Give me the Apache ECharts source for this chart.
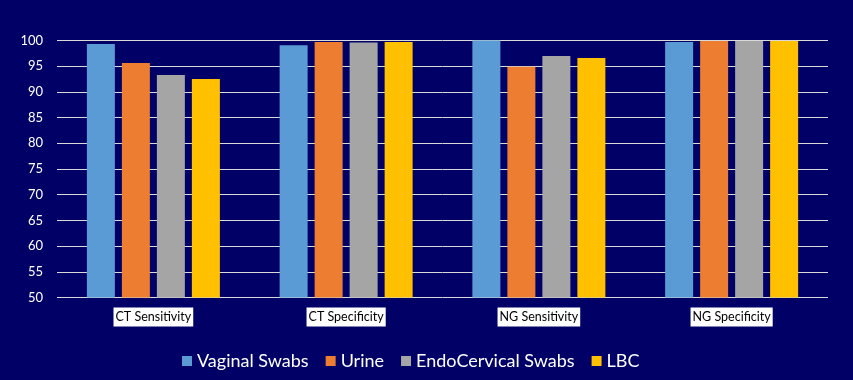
<!DOCTYPE html>
<html><head><meta charset="utf-8">
<script src="https://cdn.jsdelivr.net/npm/echarts@6/dist/echarts.min.js"></script>
<style>html,body{margin:0;padding:0;background:#000066}#c{width:853px;height:380px}</style>
</head><body><div id="c"></div>
<script>
const categories = ['CT Sensitivity', 'CT Specificity', 'NG Sensitivity', 'NG Specificity'];
const seriesNames = ['Vaginal Swabs', 'Urine', 'EndoCervical Swabs', 'LBC'];
const vaginal = [99.3, 99.1, 100, 99.7];
const urine = [95.6, 99.7, 94.9, 99.9];
const endo = [93.3, 99.6, 97.0, 99.9];
const lbc = [92.5, 99.7, 96.6, 99.9];
const colors = ['#5B9BD5', '#ED7D31', '#A5A5A5', '#FFC000'];
const values = [vaginal, urine, endo, lbc];

const chart = echarts.init(document.getElementById('c'));
chart.setOption({
  backgroundColor: '#000066',
  animation: false,
  textStyle: { fontFamily: 'Lato, "Open Sans", sans-serif' },
  grid: { left: 57, right: 25, top: 40.5, bottom: 82.5 },
  legend: {
    data: seriesNames,
    left: 177, top: 347,
    icon: 'rect', itemWidth: 10, itemHeight: 10, itemGap: 17,
    textStyle: { color: '#ffffff', fontSize: 18, fontFamily: 'Lato, sans-serif' }
  },
  xAxis: {
    type: 'category', data: categories,
    axisLine: { show: false }, axisTick: { show: false },
    axisLabel: {
      color: '#000000', backgroundColor: '#ffffff', fontSize: 12.5,
      padding: [3, 2, 3, 2], margin: 10, fontFamily: 'Lato, sans-serif'
    }
  },
  yAxis: {
    type: 'value', min: 50, max: 100, interval: 5,
    axisLine: { show: false }, axisTick: { show: false },
    axisLabel: { color: '#ffffff', fontSize: 13, margin: 14 },
    splitLine: { lineStyle: { color: '#D9D9D9', width: 1 } }
  },
  series: seriesNames.map((n, i) => ({
    name: n, type: 'bar', data: values[i],
    barWidth: 28, barGap: '25%',
    itemStyle: { color: colors[i] }
  }))
});
</script></body></html>
